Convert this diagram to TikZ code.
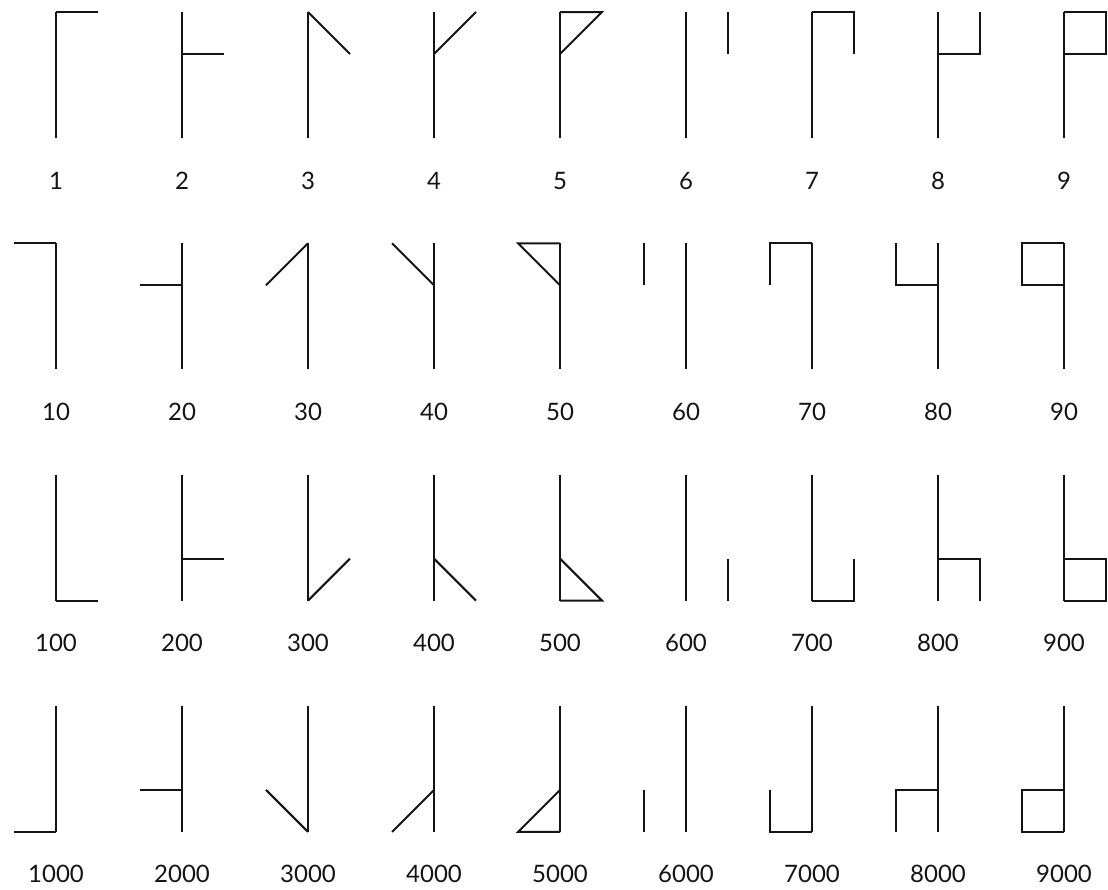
\documentclass[tikz,border=0pt]{standalone}
\usepackage{fontspec}
\setmainfont{Lato}
\usepackage{tikz}
\definecolor{GlyphInk}{RGB}{20,20,20}

% one unit glyph, drawn from the stem centre (0,0), y runs down
\newcommand{\cistunit}[1]{%
  \ifcase#1\or
    \draw[glyph] (0,-63) -- (42,-63);\or
    \draw[glyph] (0,-21) -- (42,-21);\or
    \draw[glyph] (0,-63) -- (42,-21);\or
    \draw[glyph] (0,-21) -- (42,-63);\or
    \draw[glyph] (0,-21) -- (42,-63) -- (0,-63);\or
    \draw[glyph] (42,-63) -- (42,-21);\or
    \draw[glyph] (0,-63) -- (42,-63) -- (42,-21);\or
    \draw[glyph] (0,-21) -- (42,-21) -- (42,-63);\or
    \draw[glyph] (0,-63) -- (42,-63) -- (42,-21) -- (0,-21);\fi}

\begin{document}
\begin{tikzpicture}[x=0.5pt, y=-0.5pt,
    glyph/.style={GlyphInk, line width=1pt, line cap=butt, line join=miter},
    numlabel/.style={anchor=base, inner sep=0pt, text=GlyphInk,
      font=\fontsize{12}{14}\selectfont}]
  \useasboundingbox (0,0) rectangle (1108,889);

  % four rows: units, tens, hundreds, thousands
  \foreach \row/\xs/\ys/\mul in {0/1/1/1, 1/-1/1/10, 2/1/-1/100, 3/-1/-1/1000} {
    \foreach \d in {1,...,9} {
      \pgfmathsetmacro{\cx}{56+126*(\d-1)}
      \pgfmathsetmacro{\cy}{75+231.3*\row}
      \begin{scope}[shift={(\cx,\cy)}]
        % stem
        \draw[glyph] (0,-63) -- (0,63);
        \begin{scope}[xscale=\xs, yscale=\ys]
          \cistunit{\d}
        \end{scope}
        \pgfmathtruncatemacro{\val}{\d*\mul}
        \node[numlabel] (lab-\row-\d) at (0,114) {\val};
      \end{scope}
    }
  }
\end{tikzpicture}
\end{document}
